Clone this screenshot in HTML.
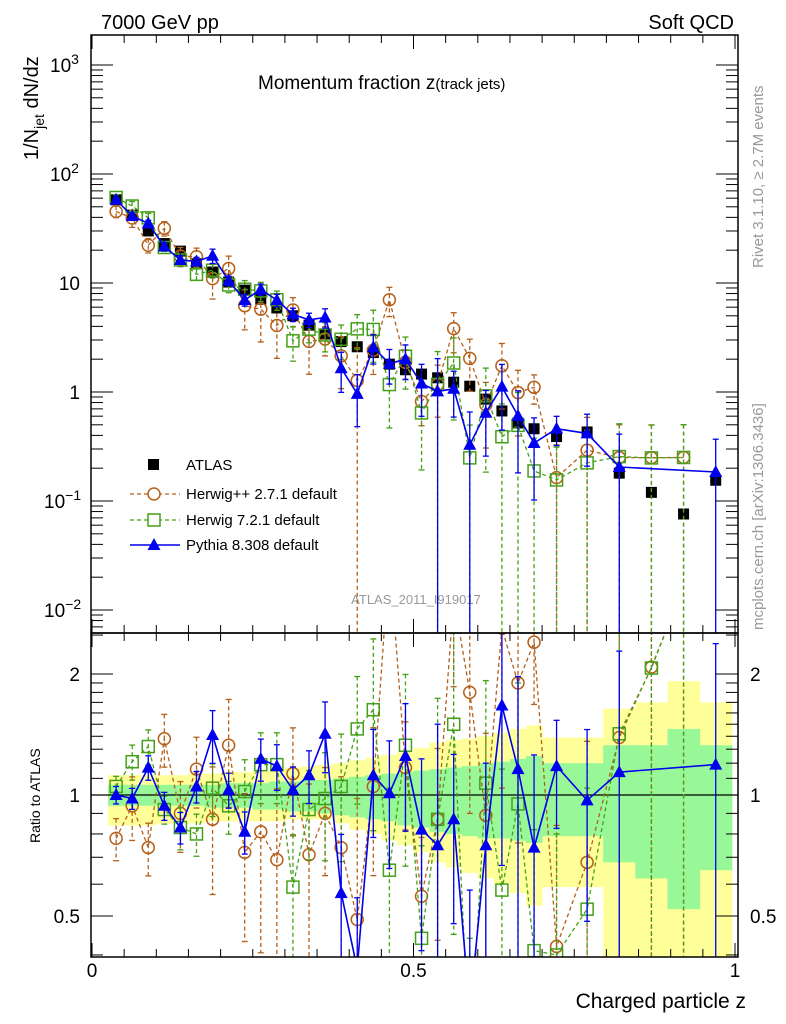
<!DOCTYPE html>
<html><head><meta charset="utf-8">
<style>
html,body{margin:0;padding:0;background:#fff;overflow:hidden;width:786px;height:1024px;}
svg{display:block;font-family:"Liberation Sans",sans-serif;}
</style></head>
<body>
<svg id="chart" width="786" height="1024" viewBox="0 0 786 1024" xmlns="http://www.w3.org/2000/svg">
<defs>
<clipPath id="clipMain"><rect x="91" y="35" width="647" height="598"/></clipPath>
<clipPath id="clipRatio"><rect x="91" y="633" width="647" height="324"/></clipPath>
</defs>
<text x="101" y="29" font-size="20">7000 GeV pp</text>
<text x="734" y="29" font-size="20" text-anchor="end">Soft QCD</text>
<text x="258" y="89" font-size="19">Momentum fraction z<tspan font-size="15">(track jets)</tspan></text>
<text transform="translate(38,160) rotate(-90)" font-size="20">1/N<tspan font-size="14" dy="6">jet</tspan><tspan dy="-6"> dN/dz</tspan></text>
<text transform="translate(40,843) rotate(-90)" font-size="14">Ratio to ATLAS</text>
<text transform="translate(763,268) rotate(-90)" font-size="15" fill="#999">Rivet 3.1.10, ≥ 2.7M events</text>
<text transform="translate(763,630) rotate(-90)" font-size="15" fill="#999">mcplots.cern.ch [arXiv:1306.3436]</text>
<text x="416" y="604" font-size="13" fill="#999" text-anchor="middle">ATLAS_2011_I919017</text>
<text x="746" y="1008" font-size="21" text-anchor="end">Charged particle z</text>
<g id="bands" clip-path="url(#clipRatio)"></g>
<g id="ratioMarks" clip-path="url(#clipRatio)"></g>
<g id="mainMarks" clip-path="url(#clipMain)"></g>
<g id="axes"></g>
<g id="legend">
<rect x="148" y="459" width="11" height="11" fill="#000"/>
<text x="186" y="470" font-size="15">ATLAS</text>
<line x1="130" y1="494" x2="180" y2="494" stroke="#b5601a" stroke-width="1.3" stroke-dasharray="4,3"/>
<circle cx="154" cy="494" r="6" fill="#fff" stroke="#b5601a" stroke-width="1.5"/>
<text x="186" y="499" font-size="15">Herwig++ 2.7.1 default</text>
<line x1="130" y1="520" x2="180" y2="520" stroke="#44a018" stroke-width="1.3" stroke-dasharray="4,3"/>
<rect x="148" y="514" width="12" height="12" fill="#fff" stroke="#44a018" stroke-width="1.5"/>
<text x="186" y="525" font-size="15">Herwig 7.2.1 default</text>
<line x1="130" y1="545" x2="180" y2="545" stroke="#0000ee" stroke-width="1.5"/>
<path d="M154,538 L160.5,550 L147.5,550 Z" fill="#0000ee"/>
<text x="186" y="550" font-size="15">Pythia 8.308 default</text>
</g>
</svg>
<script>
// ---- data ----
const binCenters = [0.0375,0.0625,0.0875,0.1125,0.1375,0.1625,0.1875,0.2125,0.2375,0.2625,0.2875,0.3125,0.3375,0.3625,0.3875,0.4125,0.4375,0.4625,0.4875,0.5125,0.5375,0.5625,0.5875,0.6125,0.6375,0.6625,0.6875,0.7225,0.77,0.82,0.87,0.92,0.97];
const binLow = [0.025,0.05,0.075,0.1,0.125,0.15,0.175,0.2,0.225,0.25,0.275,0.3,0.325,0.35,0.375,0.4,0.425,0.45,0.475,0.5,0.525,0.55,0.575,0.6,0.625,0.65,0.675,0.7,0.745,0.795,0.845,0.895,0.945];
const binHigh = [0.05,0.075,0.1,0.125,0.15,0.175,0.2,0.225,0.25,0.275,0.3,0.325,0.35,0.375,0.4,0.425,0.45,0.475,0.5,0.525,0.55,0.575,0.6,0.625,0.65,0.675,0.7,0.745,0.795,0.845,0.895,0.945,0.995];
const atlasValues = [58,42,30,23,19.6,15,12.6,10.2,8.6,7.1,5.9,5.0,4.1,3.4,2.9,2.6,2.3,1.8,1.6,1.46,1.35,1.23,1.13,0.86,0.67,0.52,0.46,0.39,0.43,0.18,0.12,0.076,0.155];
const atlasTotUp = [1.12,1.12,1.12,1.12,1.12,1.13,1.13,1.14,1.14,1.15,1.16,1.17,1.18,1.19,1.20,1.22,1.24,1.26,1.28,1.31,1.35,1.37,1.38,1.40,1.43,1.46,1.49,1.39,1.39,1.64,1.70,1.92,1.70];
const atlasTotDn = [0.84,0.84,0.84,0.85,0.85,0.85,0.86,0.86,0.86,0.86,0.86,0.87,0.87,0.87,0.85,0.82,0.80,0.77,0.75,0.72,0.68,0.66,0.64,0.62,0.60,0.57,0.53,0.59,0.59,0.3,0.3,0.3,0.3];
const atlasStatUp = [1.06,1.06,1.06,1.06,1.06,1.06,1.06,1.07,1.07,1.07,1.08,1.08,1.09,1.09,1.10,1.11,1.12,1.13,1.14,1.15,1.16,1.17,1.18,1.20,1.21,1.23,1.25,1.20,1.20,1.33,1.33,1.46,1.33];
const atlasStatDn = [0.94,0.94,0.94,0.94,0.94,0.94,0.93,0.93,0.93,0.92,0.92,0.91,0.91,0.90,0.89,0.88,0.87,0.86,0.84,0.83,0.81,0.80,0.79,0.78,0.78,0.77,0.76,0.79,0.79,0.68,0.62,0.52,0.65];
const herwigPPRatio = [0.78,0.94,0.74,1.38,0.90,1.16,0.87,1.33,0.72,0.81,0.69,1.13,0.71,0.90,0.74,0.49,1.05,3.9,1.17,0.56,0.87,3.1,1.80,0.89,2.6,1.9,2.4,0.42,0.68,1.39,2.08,3.3,null];
const herwigPPErr = [0.12,0.18,0.15,0.15,0.2,0.2,0.35,0.3,0.4,0.5,0.5,0.3,0.5,0.3,0.5,1,0.4,0.3,0.3,0.4,0.5,0.4,0.5,0.6,0.6,0.6,0.3,1,1,1,1,1,null];
const herwig7Ratio = [1.05,1.21,1.32,0.92,0.83,0.80,1.04,0.94,1.02,1.19,1.19,0.59,0.92,0.98,1.05,1.46,1.63,0.65,1.33,0.44,0.87,1.50,0.22,1.07,0.58,0.95,0.41,0.40,0.52,1.42,2.07,3.3,null];
const herwig7Err = [0.06,0.1,0.1,0.08,0.12,0.12,0.15,0.15,0.2,0.2,0.2,0.35,0.25,0.3,0.35,0.35,0.5,0.6,0.5,0.7,1,0.7,1,0.8,1,1,1,1,1,1,1,1,null];
const pythiaRatio = [1.0,0.98,1.17,0.94,0.83,1.05,1.41,1.03,0.81,1.23,1.18,1.03,1.12,1.42,0.57,0.37,1.12,1.01,1.25,0.82,0.75,0.87,0.29,0.75,1.67,1.16,0.74,1.18,0.97,1.14,null,null,1.19];
const pythiaErr = [0.05,0.06,0.07,0.08,0.09,0.09,0.15,0.1,0.12,0.12,0.13,0.14,0.15,0.2,0.4,0.5,0.3,0.35,0.35,0.5,1,0.45,1,0.6,0.6,0.7,0.7,0.3,0.5,1,null,null,1];
const mainYTickLabels = ["10","10","10","1","10","10"];
const mainYTickExps = [3,2,1,0,-1,-2];
const ratioTickValues = [0.5,1,2];
const ratioTickLabels = ["0.5","1","2"];
const xTickValues = [0,0.5,1];
const xTickLabels = ["0","0.5","1"];

// ---- axes functions ----
const X0=91, X1=738, MT=35, MB=633, RT=633, RB=957;
const XZ0=92, XSCALE=643;
const LOGTOP=3.275, LOGBOT=-2.211;
function xs(z){return XZ0+z*XSCALE;}
function ym(v){return MT+(LOGTOP-Math.log10(v))/(LOGTOP-LOGBOT)*(MB-MT);}
function yr(r){return 795-121*Math.log2(r);}
const NS="http://www.w3.org/2000/svg";
function el(parent,tag,attrs,name){
  const e=document.createElementNS(NS,tag);
  for(const k in attrs) e.setAttribute(k,attrs[k]);
  
  
  parent.appendChild(e); return e;
}
const bands=document.getElementById('bands');
const rm=document.getElementById('ratioMarks');
const mm=document.getElementById('mainMarks');
const ax=document.getElementById('axes');

for(let i=0;i<binCenters.length;i++){
  const x=xs(binLow[i]), w=xs(binHigh[i])-x+0.5;
  el(bands,'rect',{x:x,y:yr(atlasTotUp[i]),width:w,height:yr(atlasTotDn[i])-yr(atlasTotUp[i]),fill:'#ffff99'},'ratio-total-band');
}
for(let i=0;i<binCenters.length;i++){
  const x=xs(binLow[i]), w=xs(binHigh[i])-x+0.5;
  el(bands,'rect',{x:x,y:yr(atlasStatUp[i]),width:w,height:yr(atlasStatDn[i])-yr(atlasStatUp[i]),fill:'#98f898'},'ratio-stat-band');
}
el(rm,'line',{x1:X0,x2:X1,y1:yr(1),y2:yr(1),stroke:'#000','stroke-width':1.3},'ratio-unity-line');

for(let i=0;i<binCenters.length;i++){
  const x=xs(binCenters[i]), y=ym(atlasValues[i]);
  el(mm,'rect',{x:x-5.5,y:y-5.5,width:11,height:11,fill:'#000'},'atlas-point');
}

const series=[
  {r:herwigPPRatio,e:herwigPPErr,c:'#b5601a',dash:'4,3',m:'circle',n:'herwigpp'},
  {r:herwig7Ratio,e:herwig7Err,c:'#44a018',dash:'4,3',m:'square',n:'herwig7'},
  {r:pythiaRatio,e:pythiaErr,c:'#0000ee',dash:null,m:'tri',n:'pythia'}
];
function marker(g,m,x,y,c,name){
  if(m==='circle') el(g,'circle',{cx:x,cy:y,r:6,fill:'none',stroke:c,'stroke-width':1.5},name);
  else if(m==='square') el(g,'rect',{x:x-6,y:y-6,width:12,height:12,fill:'none',stroke:c,'stroke-width':1.5},name);
  else el(g,'path',{d:`M${x},${y-7} L${x+6.5},${y+5} L${x-6.5},${y+5} Z`,fill:c},name);
}
for(const s of series){
  for(const panel of ['main','ratio']){
    const g = panel==='main'?mm:rm;
    const yf = panel==='main' ? (i,f)=>ym(atlasValues[i]*f) : (i,f)=>yr(f);
    const bottom = panel==='main'?MB+5:RB+5;
    let pts=[];
    for(let i=0;i<binCenters.length;i++){
      if(s.r[i]===null) continue;
      const x=xs(binCenters[i]), y=yf(i,s.r[i]);
      pts.push(x.toFixed(1)+','+y.toFixed(1));
      const up=yf(i,s.r[i]*(1+s.e[i]));
      const dn= s.e[i]>=1 ? bottom : yf(i,s.r[i]*(1-s.e[i]));
      const a={x1:x,x2:x,y1:up,y2:dn,stroke:s.c,'stroke-width':1.3};
      if(s.dash) a['stroke-dasharray']=s.dash;
      el(g,'line',a,s.n+'-error-bar');
      el(g,'line',{x1:x-3,x2:x+3,y1:up,y2:up,stroke:s.c,'stroke-width':1.3},s.n+'-error-cap');
      if(s.e[i]<1) el(g,'line',{x1:x-3,x2:x+3,y1:dn,y2:dn,stroke:s.c,'stroke-width':1.3},s.n+'-error-cap');
    }
    const la={points:pts.join(' '),fill:'none',stroke:s.c,'stroke-width':s.dash?1.3:1.6};
    if(s.dash) la['stroke-dasharray']=s.dash;
    el(g,'polyline',la,s.n+'-'+panel+'-line');
    for(let i=0;i<binCenters.length;i++){
      if(s.r[i]===null) continue;
      marker(g,s.m,xs(binCenters[i]),yf(i,s.r[i]),s.c,s.n+'-'+panel+'-point');
    }
  }
}

el(ax,'rect',{x:X0,y:MT,width:X1-X0,height:MB-MT,fill:'none',stroke:'#000','stroke-width':1.5},'main-plot-frame');
el(ax,'rect',{x:X0,y:RT,width:X1-X0,height:RB-RT,fill:'none',stroke:'#000','stroke-width':1.5},'ratio-plot-frame');
for(let k=0;k<=20;k++){
  const z=k*0.05, x=xs(z), L=(k%10===0)?14:8;
  for(const [yt,yb] of [[MT,MB],[RT,RB]]){
    el(ax,'line',{x1:x,x2:x,y1:yt,y2:yt+L,stroke:'#000','stroke-width':1},'x-tick');
    el(ax,'line',{x1:x,x2:x,y1:yb,y2:yb-L,stroke:'#000','stroke-width':1},'x-tick');
  }
}
for(let i=0;i<xTickValues.length;i++){
  el(ax,'text',{x:xs(xTickValues[i]),y:977,'font-size':19,'text-anchor':'middle'},'x-tick-label').textContent=xTickLabels[i];
}
for(let d=-3;d<=3;d++){
  for(let m=1;m<10;m++){
    const v=m*Math.pow(10,d); const y=ym(v);
    if(y<MT||y>MB) continue;
    const L=m===1?22:12;
    el(ax,'line',{x1:X0,x2:X0+L,y1:y,y2:y,stroke:'#000','stroke-width':1},'y-tick');
    el(ax,'line',{x1:X1,x2:X1-L,y1:y,y2:y,stroke:'#000','stroke-width':1},'y-tick');
  }
}
for(let i=0;i<mainYTickExps.length;i++){
  const e=mainYTickExps[i], y=ym(Math.pow(10,e))+7;
  const t=el(ax,'text',{x:80,y:y,'font-size':19,'text-anchor':'end'},'y-tick-label');
  t.textContent=mainYTickLabels[i];
  if(e!==0&&e!==1){
    const s=document.createElementNS(NS,'tspan');
    s.setAttribute('dy','-8');s.setAttribute('font-size','14');
    s.textContent=String(e).replace('-','−');
    t.setAttribute('text-anchor','start');
    t.setAttribute('x', e<0?44:50);
    t.appendChild(s);
  }
}
const rMinor=[0.4,0.5,0.6,0.7,0.8,0.9,1,1.1,1.2,1.3,1.4,1.5,1.6,1.7,1.8,1.9,2,2.5];
for(const v of rMinor){
  const y=yr(v); const L=(v===0.5||v===1||v===2)?22:12;
  el(ax,'line',{x1:X0,x2:X0+L,y1:y,y2:y,stroke:'#000','stroke-width':1},'ratio-y-tick');
  el(ax,'line',{x1:X1,x2:X1-L,y1:y,y2:y,stroke:'#000','stroke-width':1},'ratio-y-tick');
}
for(let i=0;i<ratioTickValues.length;i++){
  const y=yr(ratioTickValues[i])+7;
  el(ax,'text',{x:80,y:y,'font-size':19,'text-anchor':'end'},'ratio-y-tick-label-left').textContent=ratioTickLabels[i];
  el(ax,'text',{x:750,y:y,'font-size':19},'ratio-y-tick-label-right').textContent=ratioTickLabels[i];
}
</script>
</body></html>
